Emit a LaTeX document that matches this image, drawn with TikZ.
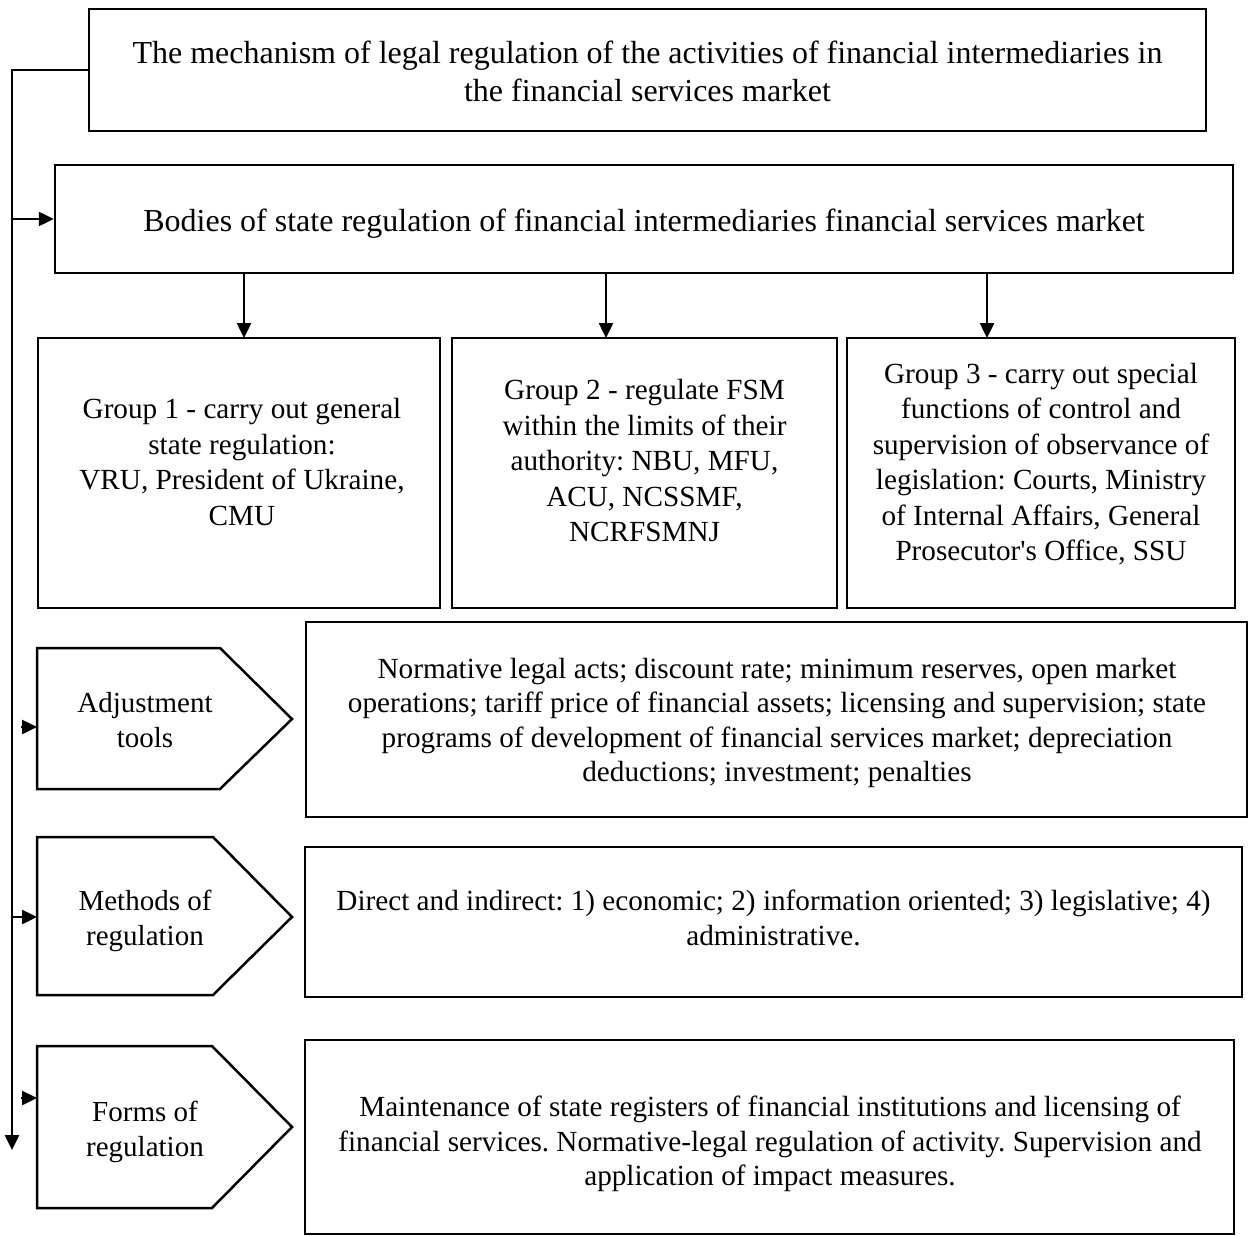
\documentclass[tikz,border=0pt]{standalone}
\usepackage{fontspec}
\setmainfont{Liberation Serif}
\usetikzlibrary{arrows.meta,calc}
\frenchspacing
\begin{document}
\begin{tikzpicture}[x=1pt,y=-1pt,
  line width=2.5pt,
  bigfont/.style={font=\fontsize{32}{38}\selectfont},
  txtfont/.style={font=\fontsize{29.2}{35.5}\selectfont},
  tightfont/.style={font=\fontsize{29.2}{34.2}\selectfont},
  rbox/.style 2 args={draw, minimum width=#1, minimum height=#2, inner sep=0pt},
  boxtext/.style={inner sep=0pt, align=center},
  tabtext/.style={inner sep=0pt, align=center, font=\fontsize{29}{35}\selectfont},
  arr/.style={-{Triangle[length=15pt,width=14pt]}},
  tabshape/.style={draw, line join=miter}
]
\useasboundingbox (0,0) rectangle (1248,1236);

% headline and bodies of regulation
\node[rbox={1117pt}{122pt}] (top) at (647.5,70) {};
\node[boxtext, bigfont] (topT) at (647.5,71)
  {The mechanism of legal regulation of the activities of financial intermediaries in\\the financial services market};
\node[rbox={1178pt}{108pt}] (bodies) at (644,219) {};
\node[boxtext, bigfont] (bodiesT) at (644,224)
  {Bodies of state regulation of financial intermediaries financial services market};

% the three groups of bodies
\node[rbox={402pt}{270pt}] (g1) at (239,473) {};
\node[boxtext, txtfont] (g1T) at (242,462)
  {Group 1 - carry out general\\state regulation:\\VRU, President of Ukraine,\\CMU};
\node[rbox={385pt}{270pt}] (g2) at (644.5,473) {};
\node[boxtext, txtfont] (g2T) at (644.5,461)
  {Group 2 - regulate FSM\\within the limits of their\\authority: NBU, MFU,\\ACU, NCSSMF,\\NCRFSMNJ};
\node[rbox={388pt}{270pt}] (g3) at (1041,473) {};
\node[boxtext, txtfont] (g3T) at (1041,464)
  {Group 3 - carry out special\\functions of control and\\supervision of observance of\\legislation: Courts, Ministry\\of Internal Affairs, General\\Prosecutor\textquotesingle s Office, SSU};

% description boxes
\node[rbox={941pt}{195pt}] (adjT) at (776.5,719.5) {};
\node[boxtext, tightfont] (adjTT) at (777,723)
  {Normative legal acts; discount rate; minimum reserves, open market\\operations; tariff price of financial assets; licensing and supervision; state\\programs of development of financial services market; depreciation\\deductions; investment; penalties};
\node[rbox={937pt}{150pt}] (methT) at (773.5,922) {};
\node[boxtext, txtfont] (methTT) at (773.5,918)
  {Direct and indirect: 1) economic; 2) information oriented; 3) legislative; 4)\\administrative.};
\node[rbox={929pt}{194pt}] (formT) at (769.5,1137) {};
\node[boxtext, tightfont] (formTT) at (770,1144)
  {Maintenance of state registers of financial institutions and licensing of\\financial services. Normative-legal regulation of activity. Supervision and\\application of impact measures.};

% pointed tabs
\draw[tabshape] (37,648) -- (220,648) -- (292,719) -- (220,789) -- (37,789) -- cycle;
\node[tabtext] (adj) at (145,720) {Adjustment\\tools};
\draw[tabshape] (37,837) -- (213,837) -- (292,917) -- (213,995) -- (37,995) -- cycle;
\node[tabtext] (meth) at (145,921) {Methods of\\regulation};
\draw[tabshape] (37,1046) -- (212,1046) -- (292,1127) -- (212,1208) -- (37,1208) -- cycle;
\node[tabtext] (form) at (145,1132) {Forms of\\regulation};

% connector points
\coordinate (spineTop) at (12,70);
\coordinate (spineEnd) at (12,1150);
\coordinate (adjIn) at (37,727);
\coordinate (adjFrom) at (21,727);
\coordinate (methIn) at (37,917);
\coordinate (formIn) at (37,1098);
\coordinate (formFrom) at (21,1098);
\coordinate (a1) at (244,338);
\coordinate (a2) at (606,338);
\coordinate (a3) at (987,338);

% left spine
\draw[arr] (top.west) -- (spineTop) -- (spineEnd);
\draw[arr] (spineTop |- bodies.west) -- (bodies.west);
\draw[arr] (adjFrom) -- (adjIn);
\draw[arr] (spineTop |- methIn) -- (methIn);
\draw[arr] (formFrom) -- (formIn);

% arrows to the groups
\draw[arr] (a1 |- bodies.south) -- (a1);
\draw[arr] (a2 |- bodies.south) -- (a2);
\draw[arr] (a3 |- bodies.south) -- (a3);
\end{tikzpicture}
\end{document}
